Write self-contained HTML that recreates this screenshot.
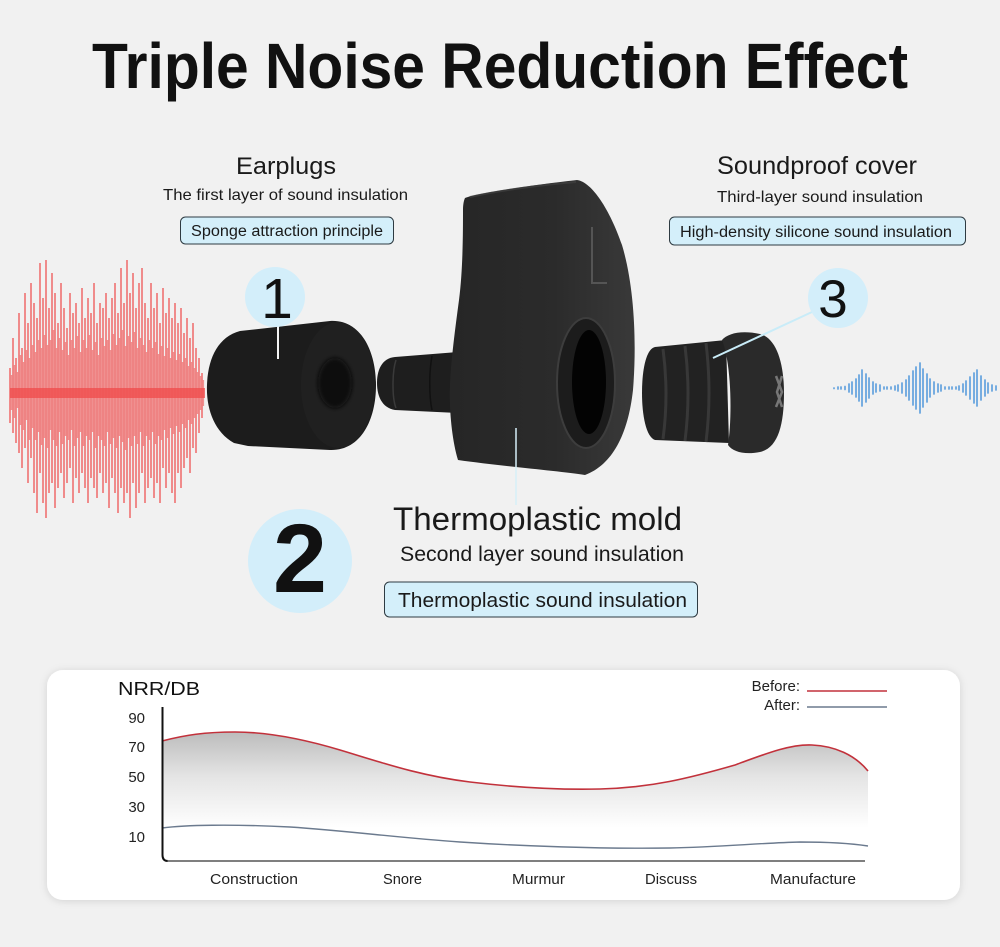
<!DOCTYPE html>
<html>
<head>
<meta charset="utf-8">
<style>
  html,body{margin:0;padding:0;background:#f1f1f1;}
  svg{display:block;}
  text{font-family:"Liberation Sans",Arial,sans-serif;}
</style>
</head>
<body>
<svg width="1000" height="947" viewBox="0 0 1000 947" xmlns="http://www.w3.org/2000/svg">
  <defs>
    <linearGradient id="moldG" x1="450" y1="0" x2="640" y2="0" gradientUnits="userSpaceOnUse">
      <stop offset="0" stop-color="#262626"/>
      <stop offset="0.55" stop-color="#2b2b2b"/>
      <stop offset="1" stop-color="#3a3a3a"/>
    </linearGradient>
    <linearGradient id="areaG" x1="0" y1="733" x2="0" y2="828" gradientUnits="userSpaceOnUse">
      <stop offset="0" stop-color="#bdbdbd"/>
      <stop offset="0.45" stop-color="#e4e4e4"/>
      <stop offset="1" stop-color="#ffffff"/>
    </linearGradient>
    <filter id="sh" x="-5%" y="-10%" width="110%" height="125%">
      <feDropShadow dx="0" dy="1" stdDeviation="4" flood-color="#000" flood-opacity="0.13"/>
    </filter>
    <filter id="blur1"><feGaussianBlur stdDeviation="2"/></filter>
  </defs>

  <rect width="1000" height="947" fill="#f1f1f1"/>

  <!-- Title -->
  <text x="500" y="88" text-anchor="middle" font-size="64" font-weight="bold" fill="#111" textLength="816" lengthAdjust="spacingAndGlyphs">Triple Noise Reduction Effect</text>

  <!-- Left labels -->
  <text x="286" y="174" text-anchor="middle" font-size="24" fill="#1a1a1a" textLength="100" lengthAdjust="spacingAndGlyphs">Earplugs</text>
  <text x="285.5" y="200" text-anchor="middle" font-size="16" fill="#1a1a1a" textLength="245" lengthAdjust="spacingAndGlyphs">The first layer of sound insulation</text>
  <rect x="180.5" y="217" width="213" height="27" rx="5" fill="#d4effa" stroke="#2e3b42" stroke-width="1"/>
  <text x="287" y="236" text-anchor="middle" font-size="15.5" fill="#1a1a1a" textLength="192" lengthAdjust="spacingAndGlyphs">Sponge attraction principle</text>

  <!-- Right labels -->
  <text x="817" y="174" text-anchor="middle" font-size="25" fill="#1a1a1a" textLength="200" lengthAdjust="spacingAndGlyphs">Soundproof cover</text>
  <text x="820" y="202" text-anchor="middle" font-size="16" fill="#1a1a1a" textLength="206" lengthAdjust="spacingAndGlyphs">Third-layer sound insulation</text>
  <rect x="669.5" y="217" width="296" height="28" rx="5" fill="#d4effa" stroke="#2e3b42" stroke-width="1"/>
  <text x="816" y="237" text-anchor="middle" font-size="15.5" fill="#1a1a1a" textLength="272" lengthAdjust="spacingAndGlyphs">High-density silicone sound insulation</text>

  <!-- Center labels -->
  <text x="393" y="530" font-size="32" fill="#1a1a1a" textLength="289" lengthAdjust="spacingAndGlyphs">Thermoplastic mold</text>
  <text x="400" y="561" font-size="21" fill="#1a1a1a" textLength="284" lengthAdjust="spacingAndGlyphs">Second layer sound insulation</text>
  <rect x="384.5" y="582" width="313" height="35" rx="5" fill="#d4effa" stroke="#2e3b42" stroke-width="1"/>
  <text x="398" y="607" font-size="20" fill="#1a1a1a" textLength="289" lengthAdjust="spacingAndGlyphs">Thermoplastic sound insulation</text>

  <!-- Red waveform -->
  <g stroke="#ee4848" stroke-width="1.2" fill="none">
    <path d="M10 368V423M13 338V433M16 358V443M19 313V453M22 348V468M25 293V448M28 323V483M31 283V458M34 303V493M37 318V513M40 263V473M43 298V503M46 260V518M49 308V493M52 273V483M55 293V508M58 323V488M61 283V473M64 308V498M67 328V483M70 293V468M73 313V503M76 303V478M79 323V493M82 288V473M85 318V488M88 298V503M91 313V478M94 283V488M97 323V498M100 303V473M103 308V493M106 293V483M109 318V508M112 298V478M115 283V493M118 313V513M121 268V488M124 303V503M127 260V493M130 293V518M133 273V483M136 308V508M139 283V493M142 268V473M145 303V503M148 318V488M151 283V478M154 308V498M157 293V483M160 323V503M163 288V468M166 313V488M169 298V473M172 318V493M175 303V503M178 323V473M181 308V488M184 333V468M187 318V458M190 338V473M193 323V448M196 348V453M199 358V433M202 373V418"/>
  </g>
  <g stroke="#f05050" stroke-width="1.2" fill="none" opacity="0.6">
    <path d="M11.5 375V410M14.5 365V418M17.5 372V408M20.5 355V425M23.5 362V430M26.5 350V420M29.5 358V440M32.5 345V428M35.5 352V440M38.5 340V432M41.5 348V445M44.5 335V438M47.5 345V448M50.5 340V430M53.5 330V440M56.5 348V446M59.5 338V432M62.5 350V444M65.5 342V436M68.5 355V440M71.5 340V430M74.5 348V446M77.5 336V438M80.5 352V432M83.5 340V446M86.5 348V436M89.5 335V440M92.5 350V432M95.5 342V448M98.5 355V436M101.5 338V440M104.5 346V446M107.5 340V432M110.5 350V444M113.5 334V438M116.5 345V448M119.5 338V436M122.5 330V442M125.5 346V450M128.5 336V438M131.5 342V446M134.5 332V436M137.5 348V444M140.5 338V432M143.5 345V446M146.5 352V436M149.5 340V440M152.5 348V432M155.5 342V444M158.5 354V436M161.5 346V440M164.5 356V430M167.5 348V438M170.5 358V428M173.5 352V434M176.5 360V426M179.5 354V432M182.5 362V424M185.5 358V428M188.5 366V420M191.5 362V424M194.5 368V418M197.5 372V414M200.5 376V410M203.5 380V406"/>
  </g>
  <rect x="10" y="388" width="195" height="10" fill="#f04a4a" opacity="0.75"/>

  <!-- Blue waveform -->
  <g stroke="#6aa6df" stroke-width="1.8" stroke-linecap="round" fill="none">
    <path d="M834 388V388.5M838 387V389M841 387V389M845 386.5V389.5M849 384V392M852 382V394M856 379V397M859 375V401M862 370V406M866 374V402M869 378V398M873 382V394M876 384V392M880 385V391M884 387V389M887 387V389M891 387V389M895 386V390M898 385V391M902 383V393M906 380V396M909 376V400M913 371V405M916 367V409M920 363V413M923 369V407M927 374V402M930 379V397M934 382V394M938 384V392M941 385V391M945 387V389M949 387V389M952 387V389M956 387V389M959 386V390M963 384V392M966 381V395M970 377V399M974 373V403M977 370V406M981 376V400M985 380V396M988 383V393M992 385V391M996 386V390"/>
  </g>

  <!-- Foam earplug (1) -->
  <path d="M234 443 C214 432 206 408 207 385 C208 358 218 337 240 331 L330 321 C360 319 376 350 376 385 C376 421 360 451 330 450 L248 446 Z" fill="#1c1c1c"/>
  <ellipse cx="338" cy="385" rx="37" ry="63" fill="#202020"/>
  <ellipse cx="335" cy="383" rx="17" ry="25" fill="#080808" filter="url(#blur1)"/>

  <!-- Mold stem -->
  <path d="M395 357 L458 352 L458 413 L395 410 C382 408 377 396 377 383 C377 370 382 358 395 357 Z" fill="#1e1e1e"/>
  <path d="M396 360 C392 372 392 398 396 408" stroke="#3a3a3a" stroke-width="1.5" fill="none"/>
  <path d="M432 356 C429 372 429 396 432 410" stroke="#111" stroke-width="1.5" fill="none"/>

  <!-- Mold body -->
  <path d="M465 198 C480 192 550 183 577 180 C592 182 610 210 622 245 C634 285 637 340 633 390 C628 435 612 465 585 475 C560 471 500 466 458 460 C452 440 449 410 450 385 C451 360 455 330 459 300 C463 270 463 230 463 210 C463 204 464 200 465 198 Z" fill="url(#moldG)"/>
  <path d="M470 197 C500 190 550 184 576 182" stroke="#444" stroke-width="2" fill="none" opacity="0.6"/>
  <path d="M592 227 V283 H607" stroke="#555" stroke-width="2" fill="none"/>
  <ellipse cx="586" cy="383" rx="29" ry="65" fill="#1c1c1c" stroke="#3d3d3d" stroke-width="2"/>
  <ellipse cx="589" cy="382" rx="17" ry="52" fill="#030303"/>

  <!-- Silicone cover (3) -->
  <path d="M655 347 L726 340 L729 443 L655 440 C646 437 642 415 642 393 C642 370 646 349 655 347 Z" fill="#222"/>
  <path d="M663 349 Q669 394 663 439 M685 346 Q691 393 685 441 M706 343 Q712 393 706 442" stroke="#383838" stroke-width="3" fill="none"/>
  <path d="M722 340 C728 333 742 330 760 334 C776 338 784 362 784 393 C784 425 778 448 760 452 C745 455 733 452 728 445 C732 420 732 365 722 340 Z" fill="#2a2a2a"/>
  <path d="M776 376 L782 392 L776 407 M782 376 L777 392 L782 407" stroke="#8a8a8a" stroke-width="2.5" fill="none" opacity="0.8"/>

  <!-- Pointer lines -->
  <line x1="278" y1="326" x2="278" y2="359" stroke="#f4f4f4" stroke-width="2"/>
  <line x1="713" y1="358" x2="812" y2="312" stroke="#c9ecf8" stroke-width="2"/>
  <line x1="516" y1="428" x2="516" y2="505" stroke="#d6eff8" stroke-width="1.5"/>

  <!-- Number circles -->
  <circle cx="275" cy="297" r="30" fill="#d3eefa"/>
  <text x="277" y="318" text-anchor="middle" font-size="57" fill="#111">1</text>
  <circle cx="838" cy="298" r="30" fill="#d3eefa"/>
  <text x="833" y="317" text-anchor="middle" font-size="53" fill="#111">3</text>
  <circle cx="300" cy="561" r="52" fill="#d3eefa"/>
  <text x="300" y="592" text-anchor="middle" font-size="97" font-weight="bold" fill="#111">2</text>

  <!-- Chart card -->
  <rect x="47" y="670" width="913" height="230" rx="16" fill="#ffffff" filter="url(#sh)"/>

  <!-- Area fill -->
  <path d="M162 741 C185 735 205 732 235 732 C265 732 300 738 340 750 C380 762 420 776 470 782 C520 788 560 790 600 789 C650 788 690 778 735 765 C765 754 790 744 812 745 C835 746 855 755 868 771 L868 830 L162 830 Z" fill="url(#areaG)"/>
  <!-- Red curve -->
  <path d="M162 741 C185 735 205 732 235 732 C265 732 300 738 340 750 C380 762 420 776 470 782 C520 788 560 790 600 789 C650 788 690 778 735 765 C765 754 790 744 812 745 C835 746 855 755 868 771" fill="none" stroke="#c2313b" stroke-width="1.6"/>
  <!-- Blue curve -->
  <path d="M162 828 C185 825 230 824 290 827 C350 831 400 838 460 842 C520 846 600 849 670 848 C720 847 760 843 800 842 C830 842 855 844 868 846" fill="none" stroke="#6b7a8e" stroke-width="1.4"/>

  <!-- Axes -->
  <path d="M162.5 707 V855 Q162.5 861 168 861" fill="none" stroke="#111" stroke-width="2"/>
  <line x1="167" y1="861" x2="865" y2="861" stroke="#555" stroke-width="1.5"/>

  <text x="118" y="695" font-size="18" fill="#111" textLength="82" lengthAdjust="spacingAndGlyphs">NRR/DB</text>
  <g font-size="15" fill="#222" text-anchor="end">
    <text x="145" y="723">90</text>
    <text x="145" y="752">70</text>
    <text x="145" y="782">50</text>
    <text x="145" y="812">30</text>
    <text x="145" y="842">10</text>
  </g>

  <!-- Legend -->
  <text x="800" y="691" text-anchor="end" font-size="15" fill="#222">Before:</text>
  <line x1="807" y1="691" x2="887" y2="691" stroke="#c2313b" stroke-width="1.5"/>
  <text x="800" y="710" text-anchor="end" font-size="15" fill="#222">After:</text>
  <line x1="807" y1="707" x2="887" y2="707" stroke="#6b7a8e" stroke-width="1.5"/>

  <!-- X labels -->
  <g font-size="14.5" fill="#222">
    <text x="210" y="884" textLength="88" lengthAdjust="spacingAndGlyphs">Construction</text>
    <text x="383" y="884" textLength="39" lengthAdjust="spacingAndGlyphs">Snore</text>
    <text x="512" y="884" textLength="53" lengthAdjust="spacingAndGlyphs">Murmur</text>
    <text x="645" y="884" textLength="52" lengthAdjust="spacingAndGlyphs">Discuss</text>
    <text x="770" y="884" textLength="86" lengthAdjust="spacingAndGlyphs">Manufacture</text>
  </g>
</svg>
</body>
</html>
